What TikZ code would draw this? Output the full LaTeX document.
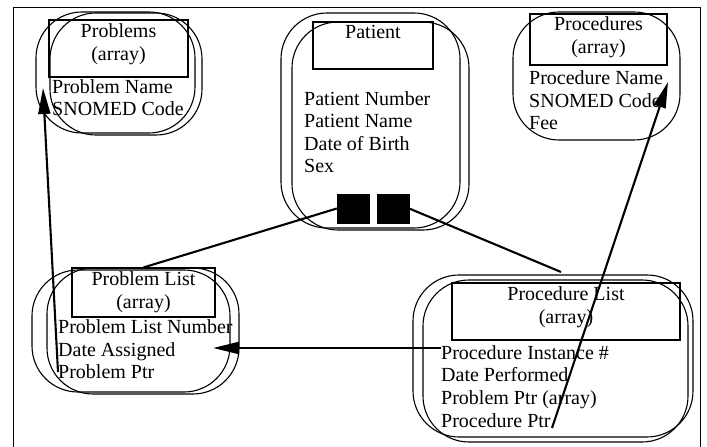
\documentclass[tikz,border=0pt]{standalone}
\usepackage{fontspec}
\setmainfont{Liberation Serif}
\usetikzlibrary{arrows.meta}
\begin{document}
\begin{tikzpicture}[x=1bp,y=-1bp,
  ent/.style={draw, line width=1.1bp, rounded corners=46bp, inner sep=0pt},
  hdr/.style={draw, line width=1.1bp, inner sep=0pt},
  txt/.style={inner sep=0pt, font=\fontsize{20bp}{22.5bp}\selectfont},
  fld/.style={txt, anchor=base west},
  ttl/.style={txt, anchor=base},
  blk/.style={fill=black, draw=black, inner sep=0pt, minimum width=32bp, minimum height=29bp},
  link/.style={line width=2.1bp},
  ptr/.style={line width=2.1bp, -{Triangle[length=26bp,width=12bp]}}]
\useasboundingbox (0,0) rectangle (707,447);
% frame
\draw[line width=1bp] (13,447) -- (13,8) -- (700,8) -- (700,447);

% Problems
\node[ent, minimum width=159bp, minimum height=121bp] (probA) at (115.5,72.5) {};
\node[ent, minimum width=152bp, minimum height=122bp] (probB) at (126,74) {};
\node[hdr, minimum width=139bp, minimum height=57bp] (probH) at (118.5,48.5) {};
\node[ttl] (probT1) at (118.5,38) {Problems};
\node[ttl] (probT2) at (118.5,61) {(array)};
\node[fld] (probF1) at (52,94) {Problem Name};
\node[fld] (probF2) at (52,116) {SNOMED Code};

% Patient
\node[ent, minimum width=179bp, minimum height=215bp] (patA) at (370.5,120.5) {};
\node[ent, minimum width=177bp, minimum height=208bp] (patB) at (380.5,126) {};
\node[hdr, minimum width=120bp, minimum height=47bp] (patH) at (373,45.5) {};
\node[ttl] (patT1) at (373,39) {Patient};
\node[fld] (patF1) at (304,106) {Patient Number};
\node[fld] (patF2) at (304,128) {Patient Name};
\node[fld] (patF3) at (304,150.5) {Date of Birth};
\node[fld] (patF4) at (304,173) {Sex};
\node[blk] (sq1) at (353,208.5) {};
\node[blk] (sq2) at (393,208.5) {};

% Procedures
\node[ent, minimum width=167bp, minimum height=128bp] (procA) at (596.5,76) {};
\node[hdr, minimum width=137bp, minimum height=51bp] (procH) at (598.5,39.5) {};
\node[ttl] (procT1) at (598.5,31) {Procedures};
\node[ttl] (procT2) at (598.5,54) {(array)};
\node[fld] (procF1) at (529,85) {Procedure Name};
\node[fld] (procF2) at (529,107.5) {SNOMED Code};
\node[fld] (procF3) at (529,130) {Fee};

% Problem List
\node[ent, minimum width=198bp, minimum height=122bp] (plA) at (131,331) {};
\node[ent, minimum width=192bp, minimum height=126bp] (plB) at (143,331) {};
\node[hdr, minimum width=143bp, minimum height=49bp] (plH) at (143.5,292.5) {};
\node[ttl] (plT1) at (143.5,286) {Problem List};
\node[ttl] (plT2) at (143.5,308.5) {(array)};
\node[fld] (plF1) at (58,334) {Problem List Number};
\node[fld] (plF2) at (58,356) {Date Assigned};
\node[fld] (plF3) at (58,378) {Problem Ptr};

% Procedure List
\node[ent, minimum width=280bp, minimum height=162bp] (prlA) at (553,356) {};
\node[ent, minimum width=265bp, minimum height=162bp] (prlB) at (555.5,361) {};
\node[hdr, minimum width=228bp, minimum height=57bp] (prlH) at (566,311.5) {};
\node[ttl] (prlT1) at (566,301) {Procedure List};
\node[ttl] (prlT2) at (566,324) {(array)};
\node[fld] (prlF1) at (441,359) {Procedure Instance \#};
\node[fld] (prlF2) at (441,381.5) {Date Performed};
\node[fld] (prlF3) at (441,404) {Problem Ptr (array)};
\node[fld] (prlF4) at (441,427) {Procedure Ptr};

% connector end points
\coordinate (prlTop) at (561,272);
\coordinate (plPtrFrom) at (58,372);
\coordinate (probTip) at (43,88);
\coordinate (prInstFrom) at (441,348);
\coordinate (plTip) at (213,348);
\coordinate (prPtrFrom) at (552,428);
\coordinate (procTip) at (668,82);

% connectors
\draw[link] (sq1.west) -- (plH.north);
\draw[link] (sq2.east) -- (prlTop);
\draw[ptr] (plPtrFrom) -- (probTip);
\draw[ptr] (prInstFrom) -- (plTip);
\draw[ptr] (prPtrFrom) -- (procTip);
\end{tikzpicture}
\end{document}
